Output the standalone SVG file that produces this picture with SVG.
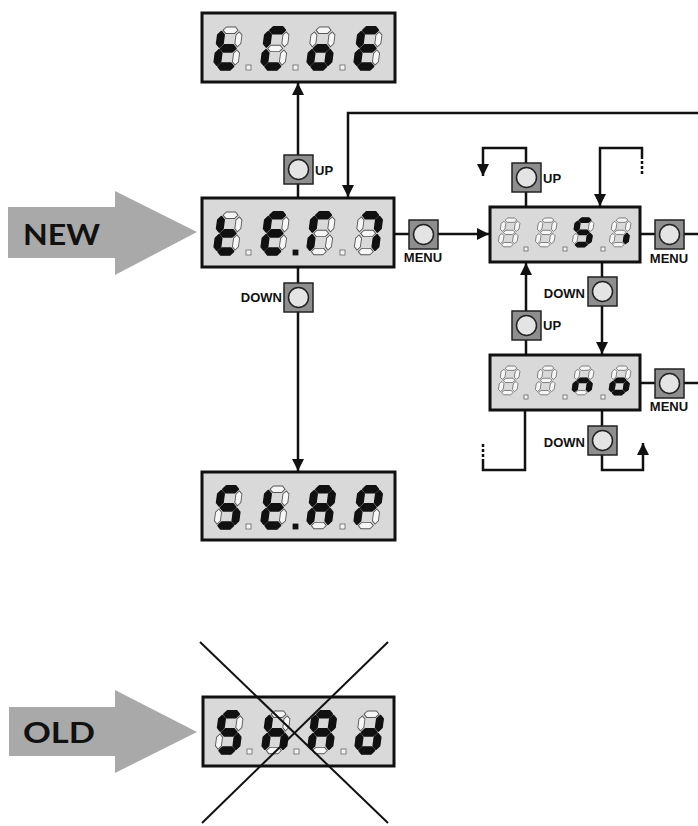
<svg xmlns="http://www.w3.org/2000/svg" xmlns:xlink="http://www.w3.org/1999/xlink" width="698" height="826" viewBox="0 0 698 826">
  <style>
    .disp { fill: #d9d9d9; stroke: #111; stroke-width: 3; }
    .on { fill: #111; stroke: #111; stroke-width: 2; stroke-linejoin: round; }
    .dp { fill: #f4f4f4; stroke: #666; stroke-width: 0.8; }
    .dpon { fill: #111; stroke: #111; stroke-width: 0.8; }
    .wire { fill: none; stroke: #111; stroke-width: 2.5; }
    .dash { fill: none; stroke: #111; stroke-width: 2.5; stroke-dasharray: 3 2; }
    .lbl { font-family: "Liberation Sans", Arial, sans-serif; font-weight: 700; font-size: 13px; fill: #111; }
    .big { font-family: Lato, "Open Sans", sans-serif; font-weight: 700; font-size: 28px; fill: #111; }
    .tag { fill: #a9a9a9; }
    .cross { stroke: #111; stroke-width: 2; }
  </style>
  <defs>
    <!-- seven segments in a 24x40 cell -->
    <path id="sa" d="M4.5,3 L7.5,0 L16.5,0 L19.5,3 L16.5,6 L7.5,6 Z"/>
    <path id="sb" d="M21,4.5 L24,7.5 L24,15.5 L21,18.5 L18,15.5 L18,7.5 Z"/>
    <path id="sc" d="M21,21.5 L24,24.5 L24,32.5 L21,35.5 L18,32.5 L18,24.5 Z"/>
    <path id="sd" d="M4.5,37 L7.5,34 L16.5,34 L19.5,37 L16.5,40 L7.5,40 Z"/>
    <path id="se" d="M3,21.5 L6,24.5 L6,32.5 L3,35.5 L0,32.5 L0,24.5 Z"/>
    <path id="sf" d="M3,4.5 L6,7.5 L6,15.5 L3,18.5 L0,15.5 L0,7.5 Z"/>
    <path id="sg" d="M4.5,20 L7.5,17 L16.5,17 L19.5,20 L16.5,23 L7.5,23 Z"/>
    <!-- unlit digit -->
    <g id="d8" fill="#f6f6f6" stroke="#555" stroke-width="0.9">
      <use href="#sa"/><use href="#sb"/><use href="#sc"/><use href="#sd"/>
      <use href="#se"/><use href="#sf"/><use href="#sg"/>
    </g>
    <!-- push button -->
    <g id="btn">
      <rect x="0" y="0" width="29" height="29" fill="#8e8e8e" stroke="#222" stroke-width="1.5"/>
      <circle cx="14.5" cy="14.5" r="10" fill="#e4e4e4" stroke="#222" stroke-width="1.5"/>
    </g>
    <marker id="ah" markerUnits="userSpaceOnUse" markerWidth="13" markerHeight="12" refX="12" refY="6" orient="auto">
      <path d="M0,0 L12,6 L0,12 Z" fill="#111"/>
    </marker>
  </defs>

  <!-- NEW / OLD tags -->
  <g id="tag-new">
    <polygon class="tag" points="8,207 115,207 115,191 197,232 115,275 115,258 8,258"/>
    <text class="big" x="23" y="245" textLength="77" lengthAdjust="spacingAndGlyphs">NEW</text>
  </g>
  <g id="tag-old">
    <polygon class="tag" points="9,707 115,707 115,690 197,732 115,773 115,756 9,756"/>
    <text class="big" x="23" y="743" textLength="72" lengthAdjust="spacingAndGlyphs">OLD</text>
  </g>

  <!-- connectors -->
  <g id="connectors">
    <path class="wire" d="M298,198 V184"/>
    <path class="wire" d="M298,155 V83" marker-end="url(#ah)"/>
    <path class="wire" d="M698,113 H348 V197" marker-end="url(#ah)"/>
    <path class="wire" d="M394,234 H409"/>
    <path class="wire" d="M438,234 H489" marker-end="url(#ah)"/>
    <path class="wire" d="M298,267 V283"/>
    <path class="wire" d="M298,312 V471" marker-end="url(#ah)"/>

    <path class="wire" d="M526,207 V192"/>
    <path class="wire" d="M526,163 V148 H483 V176" marker-end="url(#ah)"/>
    <path class="wire" d="M642,156 V148 H600 V206" marker-end="url(#ah)"/>
    <path class="dash" d="M642,156 V176"/>
    <path class="wire" d="M640,234 H655"/>
    <path class="wire" d="M684,234 H698"/>
    <path class="wire" d="M602,262 V277"/>
    <path class="wire" d="M602,306 V354" marker-end="url(#ah)"/>

    <path class="wire" d="M526,355 V340"/>
    <path class="wire" d="M526,311 V263" marker-end="url(#ah)"/>
    <path class="wire" d="M640,383 H655"/>
    <path class="wire" d="M684,383 H698"/>
    <path class="wire" d="M602,410 V426"/>
    <path class="wire" d="M602,455 V470 H643 V443" marker-end="url(#ah)"/>
    <path class="wire" d="M525,410 V470 H483 V462"/>
    <path class="dash" d="M483,462 V443"/>
  </g>

  <!-- buttons -->
  <g id="btn-up-1"><use href="#btn" x="284" y="155"/><text class="lbl" x="315" y="175">UP</text></g>
  <g id="btn-menu-1"><use href="#btn" x="409" y="220"/><text class="lbl" x="423" y="262" text-anchor="middle">MENU</text></g>
  <g id="btn-down-1"><use href="#btn" x="284" y="283"/><text class="lbl" x="282" y="302" text-anchor="end">DOWN</text></g>
  <g id="btn-up-2"><use href="#btn" x="512" y="163"/><text class="lbl" x="543" y="183">UP</text></g>
  <g id="btn-menu-2"><use href="#btn" x="655" y="220"/><text class="lbl" x="669" y="263" text-anchor="middle">MENU</text></g>
  <g id="btn-down-2"><use href="#btn" x="588" y="277"/><text class="lbl" x="585" y="298" text-anchor="end">DOWN</text></g>
  <g id="btn-up-3"><use href="#btn" x="512" y="311"/><text class="lbl" x="543" y="330">UP</text></g>
  <g id="btn-menu-3"><use href="#btn" x="655" y="369"/><text class="lbl" x="669" y="411" text-anchor="middle">MENU</text></g>
  <g id="btn-down-3"><use href="#btn" x="588" y="426"/><text class="lbl" x="585" y="447" text-anchor="end">DOWN</text></g>

  <!-- display: t.C.o.E -->
  <g id="disp-tcoe" transform="translate(202,13)">
    <rect class="disp" x="0" y="0" width="193" height="69"/>
    <g transform="translate(17,14) scale(1,1.07) skewX(-8)"><use href="#d8"/><use class="on" href="#sf"/><use class="on" href="#se"/><use class="on" href="#sg"/><use class="on" href="#sd"/></g>
    <g transform="translate(64,14) scale(1,1.07) skewX(-8)"><use href="#d8"/><use class="on" href="#sa"/><use class="on" href="#sf"/><use class="on" href="#se"/><use class="on" href="#sd"/></g>
    <g transform="translate(110,14) scale(1,1.07) skewX(-8)"><use href="#d8"/><use class="on" href="#sg"/><use class="on" href="#se"/><use class="on" href="#sc"/><use class="on" href="#sd"/></g>
    <g transform="translate(157,14) scale(1,1.07) skewX(-8)"><use href="#d8"/><use class="on" href="#sa"/><use class="on" href="#sf"/><use class="on" href="#sg"/><use class="on" href="#se"/><use class="on" href="#sd"/></g>
    <rect class="dp" x="44" y="52" width="5" height="5"/>
    <rect class="dp" x="91" y="52" width="5" height="5"/>
    <rect class="dp" x="138" y="52" width="5" height="5"/>
  </g>

  <!-- display: t.E.M -->
  <g id="disp-tem" transform="translate(202,198)">
    <rect class="disp" x="0" y="0" width="192" height="69"/>
    <g transform="translate(17,14) scale(1,1.07) skewX(-8)"><use href="#d8"/><use class="on" href="#sf"/><use class="on" href="#se"/><use class="on" href="#sg"/><use class="on" href="#sd"/></g>
    <g transform="translate(64,14) scale(1,1.07) skewX(-8)"><use href="#d8"/><use class="on" href="#sa"/><use class="on" href="#sf"/><use class="on" href="#sg"/><use class="on" href="#se"/><use class="on" href="#sd"/></g>
    <g transform="translate(110,14) scale(1,1.07) skewX(-8)"><use href="#d8"/><use class="on" href="#sa"/><use class="on" href="#sf"/><use class="on" href="#se"/></g>
    <g transform="translate(157,14) scale(1,1.07) skewX(-8)"><use href="#d8"/><use class="on" href="#sa"/><use class="on" href="#sb"/><use class="on" href="#sc"/></g>
    <rect class="dp" x="44" y="52" width="5" height="5"/>
    <rect class="dpon" x="91" y="52" width="5" height="5"/>
    <rect class="dp" x="138" y="52" width="5" height="5"/>
  </g>

  <!-- display: S.i -->
  <g id="disp-si" transform="translate(490,207)">
    <rect class="disp" x="0" y="0" width="150" height="55"/>
    <g transform="translate(12,11) scale(0.78,0.72) skewX(-8)"><use href="#d8"/></g>
    <g transform="translate(49,11) scale(0.78,0.72) skewX(-8)"><use href="#d8"/></g>
    <g transform="translate(86,11) scale(0.78,0.72) skewX(-8)"><use href="#d8"/><use class="on" href="#sa"/><use class="on" href="#sf"/><use class="on" href="#sg"/><use class="on" href="#sc"/><use class="on" href="#sd"/></g>
    <g transform="translate(123,11) scale(0.78,0.72) skewX(-8)"><use href="#d8"/><use class="on" href="#sc"/></g>
    <rect class="dp" x="34" y="40" width="4" height="4"/>
    <rect class="dp" x="73" y="40" width="4" height="4"/>
    <rect class="dp" x="111" y="40" width="4" height="4"/>
  </g>

  <!-- display: n.o -->
  <g id="disp-no" transform="translate(490,355)">
    <rect class="disp" x="0" y="0" width="150" height="55"/>
    <g transform="translate(12,11) scale(0.78,0.72) skewX(-8)"><use href="#d8"/></g>
    <g transform="translate(49,11) scale(0.78,0.72) skewX(-8)"><use href="#d8"/></g>
    <g transform="translate(86,11) scale(0.78,0.72) skewX(-8)"><use href="#d8"/><use class="on" href="#sg"/><use class="on" href="#se"/><use class="on" href="#sc"/></g>
    <g transform="translate(123,11) scale(0.78,0.72) skewX(-8)"><use href="#d8"/><use class="on" href="#sg"/><use class="on" href="#se"/><use class="on" href="#sc"/><use class="on" href="#sd"/></g>
    <rect class="dp" x="34" y="40" width="4" height="4"/>
    <rect class="dp" x="73" y="40" width="4" height="4"/>
    <rect class="dp" x="111" y="40" width="4" height="4"/>
  </g>

  <!-- display: S.t.A.P -->
  <g id="disp-stap" transform="translate(202,472)">
    <rect class="disp" x="0" y="0" width="193" height="68"/>
    <g transform="translate(17,14) scale(1,1.07) skewX(-8)"><use href="#d8"/><use class="on" href="#sa"/><use class="on" href="#sf"/><use class="on" href="#sg"/><use class="on" href="#sc"/><use class="on" href="#sd"/></g>
    <g transform="translate(64,14) scale(1,1.07) skewX(-8)"><use href="#d8"/><use class="on" href="#sf"/><use class="on" href="#se"/><use class="on" href="#sg"/><use class="on" href="#sd"/></g>
    <g transform="translate(110,14) scale(1,1.07) skewX(-8)"><use href="#d8"/><use class="on" href="#sa"/><use class="on" href="#sb"/><use class="on" href="#sc"/><use class="on" href="#se"/><use class="on" href="#sf"/><use class="on" href="#sg"/></g>
    <g transform="translate(157,14) scale(1,1.07) skewX(-8)"><use href="#d8"/><use class="on" href="#sa"/><use class="on" href="#sb"/><use class="on" href="#sf"/><use class="on" href="#sg"/><use class="on" href="#se"/></g>
    <rect class="dp" x="44" y="52" width="5" height="5"/>
    <rect class="dpon" x="91" y="52" width="5" height="5"/>
    <rect class="dp" x="138" y="52" width="5" height="5"/>
  </g>

  <!-- display: S.b.A.d (crossed out) -->
  <g id="disp-sbad" transform="translate(203,697)">
    <rect class="disp" x="0" y="0" width="191" height="69"/>
    <g transform="translate(17,14) scale(1,1.07) skewX(-8)"><use href="#d8"/><use class="on" href="#sa"/><use class="on" href="#sf"/><use class="on" href="#sg"/><use class="on" href="#sc"/><use class="on" href="#sd"/></g>
    <g transform="translate(64,14) scale(1,1.07) skewX(-8)"><use href="#d8"/><use class="on" href="#sf"/><use class="on" href="#se"/><use class="on" href="#sg"/><use class="on" href="#sc"/></g>
    <g transform="translate(110,14) scale(1,1.07) skewX(-8)"><use href="#d8"/><use class="on" href="#sa"/><use class="on" href="#sb"/><use class="on" href="#sc"/><use class="on" href="#se"/><use class="on" href="#sf"/><use class="on" href="#sg"/></g>
    <g transform="translate(157,14) scale(1,1.07) skewX(-8)"><use href="#d8"/><use class="on" href="#sb"/><use class="on" href="#sc"/><use class="on" href="#sd"/><use class="on" href="#se"/><use class="on" href="#sg"/></g>
    <rect class="dp" x="44" y="52" width="5" height="5"/>
    <rect class="dp" x="91" y="52" width="5" height="5"/>
    <rect class="dp" x="138" y="52" width="5" height="5"/>
  </g>
  <g id="cross-out">
    <line class="cross" x1="200" y1="642" x2="388" y2="823"/>
    <line class="cross" x1="388" y1="642" x2="202" y2="823"/>
  </g>
</svg>
